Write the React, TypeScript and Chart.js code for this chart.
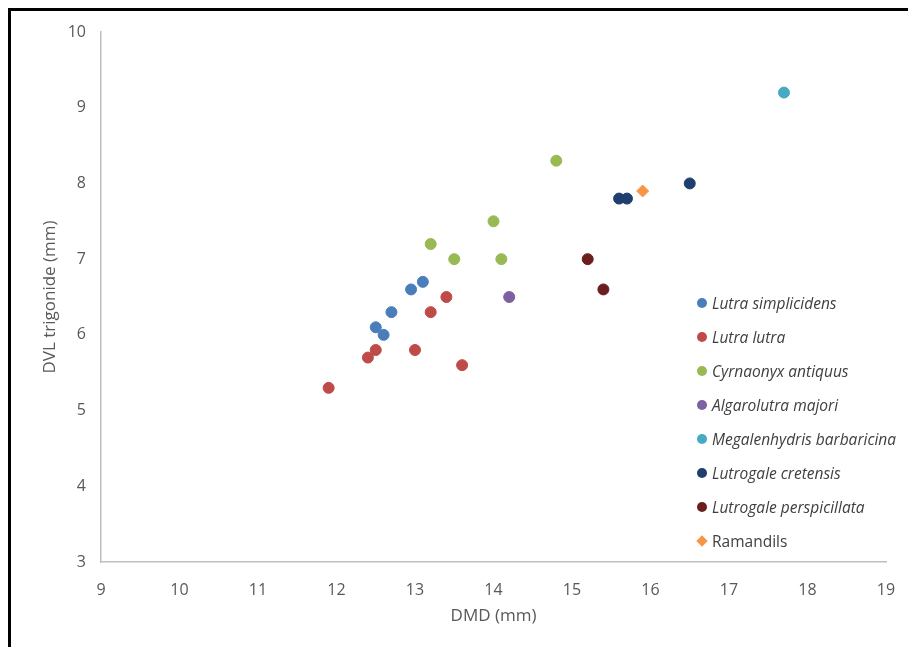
import React, { useEffect, useRef } from "react";
import { Chart, registerables } from "chart.js";

Chart.register(...registerables);

const seriesNames = [
  "Lutra simplicidens",
  "Lutra lutra",
  "Cyrnaonyx antiquus",
  "Algarolutra majori",
  "Megalenhydris barbaricina",
  "Lutrogale cretensis",
  "Lutrogale perspicillata",
  "Ramandils",
];

const lutraSimplicidensX = [12.5, 12.6, 12.7, 12.95, 13.1];
const lutraSimplicidensY = [6.1, 6.0, 6.3, 6.6, 6.7];

const lutraLutraX = [11.9, 12.4, 12.5, 13.0, 13.2, 13.4, 13.6];
const lutraLutraY = [5.3, 5.7, 5.8, 5.8, 6.3, 6.5, 5.6];

const cyrnaonyxX = [13.2, 13.5, 14.0, 14.1, 14.8];
const cyrnaonyxY = [7.2, 7.0, 7.5, 7.0, 8.3];

const algarolutraX = [14.2];
const algarolutraY = [6.5];

const megalenhydrisX = [17.7];
const megalenhydrisY = [9.2];

const lutrogaleCretensisX = [15.6, 15.7, 16.5];
const lutrogaleCretensisY = [7.8, 7.8, 8.0];

const lutrogalePerspicillataX = [15.2, 15.4];
const lutrogalePerspicillataY = [7.0, 6.6];

const ramandilsX = [15.9];
const ramandilsY = [7.9];

const seriesX = [
  lutraSimplicidensX,
  lutraLutraX,
  cyrnaonyxX,
  algarolutraX,
  megalenhydrisX,
  lutrogaleCretensisX,
  lutrogalePerspicillataX,
  ramandilsX,
];
const seriesY = [
  lutraSimplicidensY,
  lutraLutraY,
  cyrnaonyxY,
  algarolutraY,
  megalenhydrisY,
  lutrogaleCretensisY,
  lutrogalePerspicillataY,
  ramandilsY,
];

const colors = [
  "#4A7EBB",
  "#BE4B48",
  "#98B954",
  "#7D60A0",
  "#46AAC5",
  "#1F3F6E",
  "#6A1E1E",
  "#F79646",
];
const italicFlags = [true, true, true, true, true, true, true, false];
const markerStyles = ["circle", "circle", "circle", "circle", "circle", "circle", "circle", "rectRot"];

const xTicks = [9, 10, 11, 12, 13, 14, 15, 16, 17, 18, 19];
const yTicks = [3, 4, 5, 6, 7, 8, 9, 10];

const xTitle = "DMD (mm)";
const yTitle = "DVL trigonide (mm)";

const FONT = '"Open Sans", sans-serif';

export default function App() {
  const ref = useRef<HTMLCanvasElement | null>(null);

  useEffect(() => {
    if (!ref.current) return;
    const datasets = seriesNames.map((name, i) => ({
      label: name,
      data: seriesX[i].map((x, j) => ({ x, y: seriesY[i][j] })),
      backgroundColor: colors[i],
      borderColor: colors[i],
      borderWidth: 1,
      pointStyle: markerStyles[i] as any,
      pointRadius: markerStyles[i] === "rectRot" ? 6 : 5.5,
      showLine: false,
    }));
    const chart = new Chart(ref.current, {
      type: "scatter",
      data: { datasets },
      options: {
        animation: false,
        responsive: false,
        maintainAspectRatio: false,
        layout: { padding: { top: 21, right: 22, left: 0, bottom: 0 } },
        plugins: {
          legend: { display: false },
          tooltip: { enabled: false },
        },
        scales: {
          x: {
            type: "linear",
            min: xTicks[0],
            max: xTicks[xTicks.length - 1],
            afterBuildTicks: (s: any) => {
              s.ticks = xTicks.map((v) => ({ value: v }));
            },
            afterFit: (s: any) => {
              s.height = 85;
              s.paddingLeft = 0;
              s.paddingRight = 0;
            },
            grid: { display: false, drawTicks: false },
            border: { display: true, color: "#BFBFBF", width: 1.5 },
            ticks: {
              padding: 19,
              color: "#595959",
              font: { family: FONT, size: 16 },
              maxRotation: 0,
            },
            title: {
              display: true,
              text: xTitle,
              color: "#595959",
              font: { family: FONT, size: 17 },
              padding: { top: 0, bottom: 21 },
            },
          },
          y: {
            type: "linear",
            min: yTicks[0],
            max: yTicks[yTicks.length - 1],
            afterBuildTicks: (s: any) => {
              s.ticks = yTicks.map((v) => ({ value: v }));
            },
            afterFit: (s: any) => {
              s.width = 90;
              s.paddingTop = 0;
              s.paddingBottom = 0;
            },
            grid: { display: false, drawTicks: false },
            border: { display: true, color: "#BFBFBF", width: 1.5 },
            ticks: {
              padding: 15,
              color: "#595959",
              font: { family: FONT, size: 16 },
            },
            title: {
              display: true,
              text: yTitle,
              color: "#595959",
              font: { family: FONT, size: 17 },
              padding: { top: 29, bottom: 0 },
            },
          },
        },
      },
    });
    return () => chart.destroy();
  }, []);

  return (
    <div
      style={{
        position: "fixed",
        left: 8,
        top: 8,
        width: 900,
        height: 639,
        overflow: "hidden",
        boxSizing: "border-box",
        borderTop: "3px solid #000",
        borderLeft: "3px solid #000",
        background: "#fff",
      }}
    >
      <canvas
        ref={ref}
        width={897}
        height={636}
        style={{ position: "absolute", left: 0, top: 0, width: 897, height: 636 }}
      />
      <div
        style={{
          position: "absolute",
          left: 686,
          top: 275,
          fontFamily: '"Open Sans", sans-serif',
          fontSize: 15.5,
          color: "#404040",
          lineHeight: "34px",
        }}
      >
        {seriesNames.map((name, i) => (
          <div key={name} style={{ display: "flex", alignItems: "center", height: 34, whiteSpace: "nowrap" }}>
            <span
              style={{
                display: "inline-block",
                width: 10,
                height: 10,
                background: colors[i],
                borderRadius: markerStyles[i] === "rectRot" ? 0 : "50%",
                transform: markerStyles[i] === "rectRot" ? "rotate(45deg) scale(0.8)" : "none",
                marginRight: 5,
              }}
            />
            <span style={{ fontStyle: italicFlags[i] ? "italic" : "normal" }}>{name}</span>
          </div>
        ))}
      </div>
    </div>
  );
}
